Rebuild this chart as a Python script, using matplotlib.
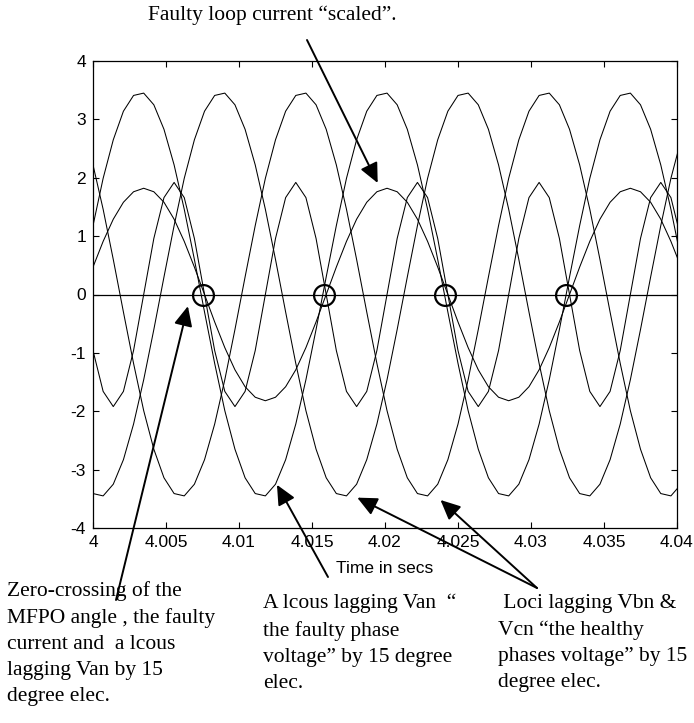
import numpy as np
import matplotlib
matplotlib.use('Agg')
import matplotlib.pyplot as plt

plt.rcParams['font.family'] = 'Liberation Sans'
plt.rcParams['axes.unicode_minus'] = False

#=========================================================================
# Data (read off the picture), sampled every 15 deg elec. at 60 Hz
#=========================================================================
ang_deg = [0, 15, 30, 45, 60, 75, 90, 105, 120, 135, 150, 165, 180, 195, 210,
           225, 240, 255, 270, 285, 300, 315, 330, 345, 360, 375, 390, 405,
           420, 435, 450, 465, 480, 495, 510, 525, 540, 555, 570, 585, 600,
           615, 630, 645, 660, 675, 690, 705, 720, 735, 750, 765, 780, 795,
           810, 825, 840, 855, 870]

locus_a = [1.18, 1.99, 2.65, 3.14, 3.41, 3.45, 3.25, 2.83, 2.22, 1.46, 0.60, -0.30,
           -1.18, -1.99, -2.65, -3.14, -3.41, -3.45, -3.25, -2.83, -2.22, -1.46, -0.60, 0.30,
           1.18, 1.99, 2.65, 3.14, 3.41, 3.45, 3.25, 2.83, 2.22, 1.46, 0.60, -0.30,
           -1.18, -1.99, -2.65, -3.14, -3.41, -3.45, -3.25, -2.83, -2.22, -1.46, -0.60, 0.30,
           1.18, 1.99, 2.65, 3.14, 3.41, 3.45, 3.25, 2.83, 2.22, 1.46, 0.60]

locus_b = [-3.41, -3.45, -3.25, -2.83, -2.22, -1.46, -0.60, 0.30,
           1.18, 1.99, 2.65, 3.14, 3.41, 3.45, 3.25, 2.83, 2.22, 1.46, 0.60, -0.30,
           -1.18, -1.99, -2.65, -3.14, -3.41, -3.45, -3.25, -2.83, -2.22, -1.46, -0.60, 0.30,
           1.18, 1.99, 2.65, 3.14, 3.41, 3.45, 3.25, 2.83, 2.22, 1.46, 0.60, -0.30,
           -1.18, -1.99, -2.65, -3.14, -3.41, -3.45, -3.25, -2.83, -2.22, -1.46, -0.60, 0.30,
           1.18, 1.99, 2.65]

locus_c = [2.22, 1.46, 0.60, -0.30,
           -1.18, -1.99, -2.65, -3.14, -3.41, -3.45, -3.25, -2.83, -2.22, -1.46, -0.60, 0.30,
           1.18, 1.99, 2.65, 3.14, 3.41, 3.45, 3.25, 2.83, 2.22, 1.46, 0.60, -0.30,
           -1.18, -1.99, -2.65, -3.14, -3.41, -3.45, -3.25, -2.83, -2.22, -1.46, -0.60, 0.30,
           1.18, 1.99, 2.65, 3.14, 3.41, 3.45, 3.25, 2.83, 2.22, 1.46, 0.60, -0.30,
           -1.18, -1.99, -2.65, -3.14, -3.41, -3.45, -3.25]

current = [0.47, 0.91, 1.29, 1.58, 1.76, 1.82, 1.76, 1.58, 1.29, 0.91, 0.47, 0.00,
           -0.47, -0.91, -1.29, -1.58, -1.76, -1.82, -1.76, -1.58, -1.29, -0.91, -0.47, 0.00,
           0.47, 0.91, 1.29, 1.58, 1.76, 1.82, 1.76, 1.58, 1.29, 0.91, 0.47, 0.00,
           -0.47, -0.91, -1.29, -1.58, -1.76, -1.82, -1.76, -1.58, -1.29, -0.91, -0.47, 0.00,
           0.47, 0.91, 1.29, 1.58, 1.76, 1.82, 1.76, 1.58, 1.29, 0.91, 0.47]

mfpo = [-0.96, -1.66, -1.92, -1.66, -0.96, 0.00, 0.96, 1.66, 1.92, 1.66, 0.96, 0.00,
        -0.96, -1.66, -1.92, -1.66, -0.96, 0.00, 0.96, 1.66, 1.92, 1.66, 0.96, 0.00,
        -0.96, -1.66, -1.92, -1.66, -0.96, 0.00, 0.96, 1.66, 1.92, 1.66, 0.96, 0.00,
        -0.96, -1.66, -1.92, -1.66, -0.96, 0.00, 0.96, 1.66, 1.92, 1.66, 0.96, 0.00,
        -0.96, -1.66, -1.92, -1.66, -0.96, 0.00, 0.96, 1.66, 1.92, 1.66, 0.96]

circle_t = [4.0075, 4.0158, 4.0241, 4.0324]
circle_y = [0, 0, 0, 0]

xticks = [4, 4.005, 4.01, 4.015, 4.02, 4.025, 4.03, 4.035, 4.04]
xtick_labels = ['4', '4.005', '4.01', '4.015', '4.02', '4.025', '4.03', '4.035', '4.04']
yticks = [-4, -3, -2, -1, 0, 1, 2, 3, 4]

t = 4 + np.array(ang_deg) / 21600.0   # 60 Hz: 1 deg elec. = 1/21600 s

#=========================================================================
# Plot
#=========================================================================
W, H = 694, 723
fig = plt.figure(figsize=(W / 100, H / 100), dpi=100)
ax = fig.add_axes([93 / W, 1 - 528 / H, (677 - 93) / W, (528 - 61) / H])

for y in (locus_a, locus_b, locus_c, current, mfpo):
    ax.plot(t, y, color='k', lw=0.75)
ax.axhline(0, color='k', lw=0.9)
ax.plot(circle_t, circle_y, 'o', mfc='none', mec='k', ms=15, mew=1.6)

ax.set_xlim(4, 4.04)
ax.set_ylim(-4, 4)
ax.set_xticks(xticks)
ax.set_xticklabels(xtick_labels)
ax.set_yticks(yticks)
ax.set_yticklabels([str(v) for v in yticks])
ax.tick_params(direction='in', top=True, right=True, length=4, width=0.8,
               labelsize=12.5, pad=5)
for s in ax.spines.values():
    s.set_linewidth(0.9)
ax.set_xlabel('Time in secs', fontsize=12.5, labelpad=8)

#=========================================================================
# Annotations
#=========================================================================
serif = dict(family='Liberation Serif', size=15.5)
fig.text(148 / W, 1 - 15 / H, 'Faulty loop current \u201cscaled\u201d.',
         ha='left', va='center', **serif)
fig.text(7 / W, 1 - 581 / H,
         'Zero-crossing of the\nMFPO angle , the faulty\ncurrent and  a lcous\n'
         'lagging Van by 15\ndegree elec.',
         ha='left', va='top', linespacing=1.5, **serif)
fig.text(263 / W, 1 - 594 / H,
         'A lcous lagging Van  \u201c\nthe faulty phase\nvoltage\u201d by 15 degree\nelec.',
         ha='left', va='top', linespacing=1.5, **serif)
fig.text(498 / W, 1 - 594 / H,
         ' Loci lagging Vbn &\nVcn \u201cthe healthy\nphases voltage\u201d by 15\ndegree elec.',
         ha='left', va='top', linespacing=1.5, **serif)

arrow = dict(arrowstyle='-|>,head_length=0.6,head_width=0.28', color='k',
             lw=1.4, shrinkA=0, shrinkB=0, mutation_scale=20)
arrows = [((4.0195, 1.91), (307, 40)),
          ((4.0065, -0.20), (116, 600)),
          ((4.0126, -3.26), (328, 577)),
          ((4.0181, -3.48), (537, 588)),
          ((4.0238, -3.52), (537, 588))]
for tip, tail in arrows:
    ax.annotate('', xy=tip, xycoords='data',
                xytext=(tail[0] / W, 1 - tail[1] / H), textcoords='figure fraction',
                arrowprops=arrow, annotation_clip=False)

fig.savefig('out.png', dpi=100)
